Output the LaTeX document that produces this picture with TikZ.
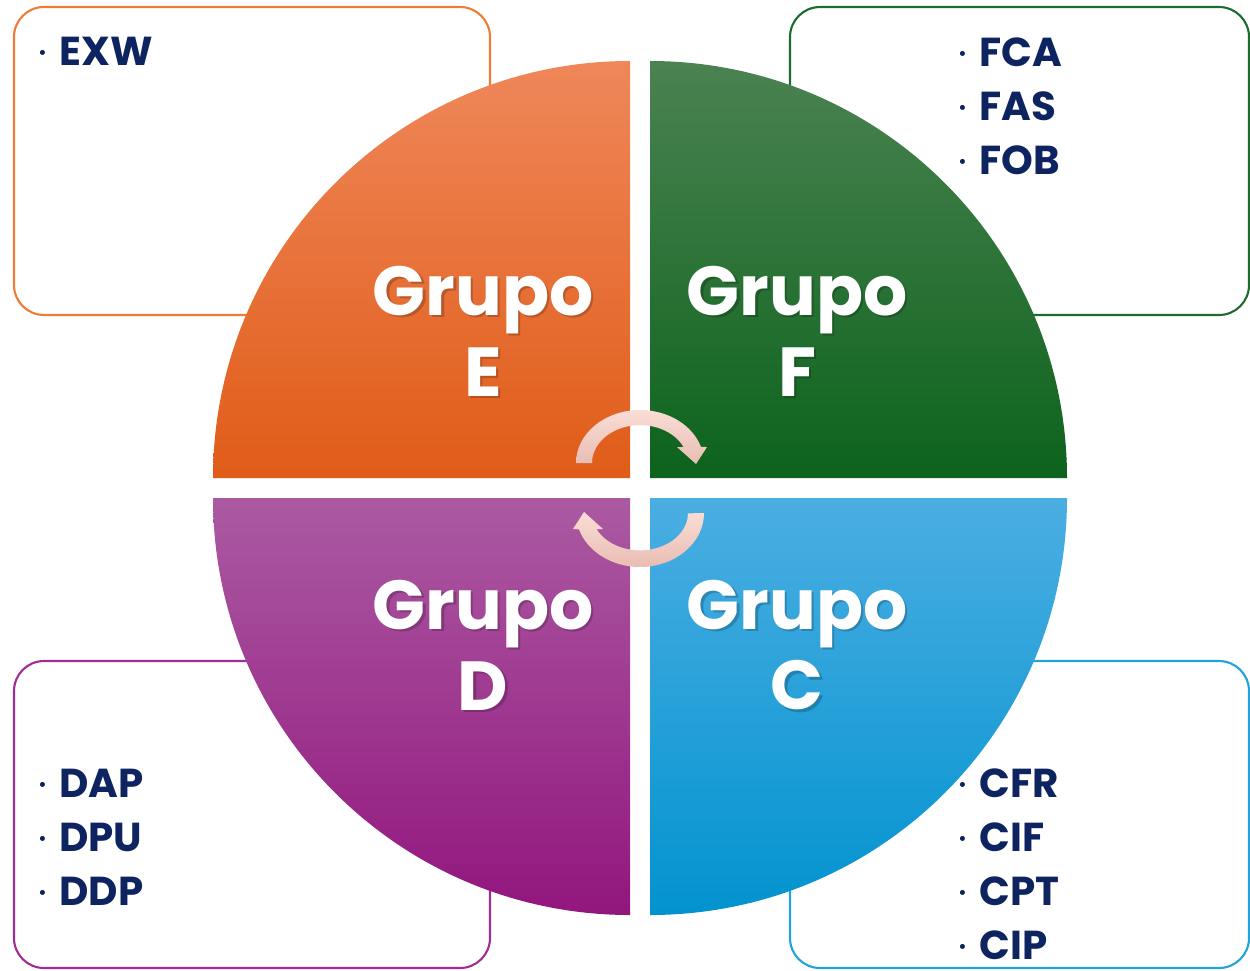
\documentclass[tikz,border=0pt]{standalone}
\usepackage{fontspec}
\setmainfont{Poppins}
\definecolor{navy}{HTML}{0E2461}
\definecolor{naranja}{HTML}{F07A36}
\definecolor{verde}{HTML}{1F6B2B}
\definecolor{morado}{HTML}{A02C94}
\definecolor{azul}{HTML}{22A3DA}
\definecolor{naranja1}{HTML}{EF875A}
\definecolor{naranja2}{HTML}{E05C18}
\definecolor{verde1}{HTML}{4B8252}
\definecolor{verde2}{HTML}{0C631C}
\definecolor{morado1}{HTML}{AB5AA2}
\definecolor{morado2}{HTML}{92167E}
\definecolor{azul1}{HTML}{4BAEE2}
\definecolor{azul2}{HTML}{0293CF}
\definecolor{rosa1}{HTML}{FADDD5}
\definecolor{rosa2}{HTML}{E8BDB3}
\newcommand{\punto}{\makebox[0.42cm][l]{\raisebox{3.5pt}{\fontsize{9.5}{9.5}\selectfont\textbullet}}}

\begin{document}
\begin{tikzpicture}[x=0.02cm,y=-0.02cm,
    grupo/.style={text=white,font=\fontsize{39.5}{46}\selectfont\bfseries,align=center,inner sep=0},
    sombra/.style={grupo,text=black,opacity=.2},
    item/.style={anchor=base west,inner sep=0,text=navy,font=\fontsize{23}{27}\selectfont\bfseries},
    caja/.style={line width=1.2pt,rounded corners=0.6cm},
    flecha/.style={top color=rosa1,bottom color=rosa2}]
    \useasboundingbox (0,0) rectangle (1250,970);
    % cajas
    \draw[caja,draw=naranja] (14,7) rectangle (490,315);
    \draw[caja,draw=verde] (790,7) rectangle (1249,315);
    \draw[caja,draw=morado] (14,661) rectangle (490,968);
    \draw[caja,draw=azul] (790,661) rectangle (1249,968);
    % cuadrantes
    \shade[top color=naranja1,bottom color=naranja2] (630,478) -- (213,478) arc[start angle=180,end angle=270,radius=417] -- cycle; % E
    \shade[top color=verde1,bottom color=verde2] (650,478) -- (650,61) arc[start angle=270,end angle=360,radius=417] -- cycle; % F
    \shade[top color=morado1,bottom color=morado2] (630,498) -- (213,498) arc[start angle=180,end angle=90,radius=417] -- cycle; % D
    \shade[top color=azul1,bottom color=azul2] (650,498) -- (1067,498) arc[start angle=0,end angle=90,radius=417] -- cycle; % C
    % flechas
    \shade[flecha] (576,463) arc[start angle=180,end angle=342.4,x radius=64,y radius=53] -- (707,447) -- (696,464) -- (677,447) -- (683.5,447) arc[start angle=335,end angle=180,x radius=48,y radius=38] -- cycle;
    \shade[flecha] (704,513) arc[start angle=0,end angle=162.4,x radius=64,y radius=54] -- (573,529) -- (584,512) -- (603,529) -- (596.5,529) arc[start angle=155,end angle=0,x radius=48,y radius=37] -- cycle;
    % grupos
    \node[sombra] (sE) at (485.5,333.5) {Grupo\\E};
    \node[grupo] (gE) at (483,331) {Grupo\\E};
    \node[sombra] (sF) at (799.5,333.5) {Grupo\\F};
    \node[grupo] (gF) at (797,331) {Grupo\\F};
    \node[sombra] (sD) at (485.5,647.5) {Grupo\\D};
    \node[grupo] (gD) at (483,645) {Grupo\\D};
    \node[sombra] (sC) at (799.5,647.5) {Grupo\\C};
    \node[grupo] (gC) at (797,645) {Grupo\\C};
    % listas
    \node[item] (e1) at (38,65) {\punto EXW};
    \foreach \t [count=\i] in {FCA,FAS,FOB}
        \node[item] (f\i) at (958,12+54*\i) {\punto\t};
    \foreach \t [count=\i] in {DAP,DPU,DDP}
        \node[item] (d\i) at (38,743+54*\i) {\punto\t};
    \foreach \t [count=\i] in {CFR,CIF,CPT,CIP}
        \node[item] (c\i) at (958,743+54*\i) {\punto\t};
\end{tikzpicture}
\end{document}
